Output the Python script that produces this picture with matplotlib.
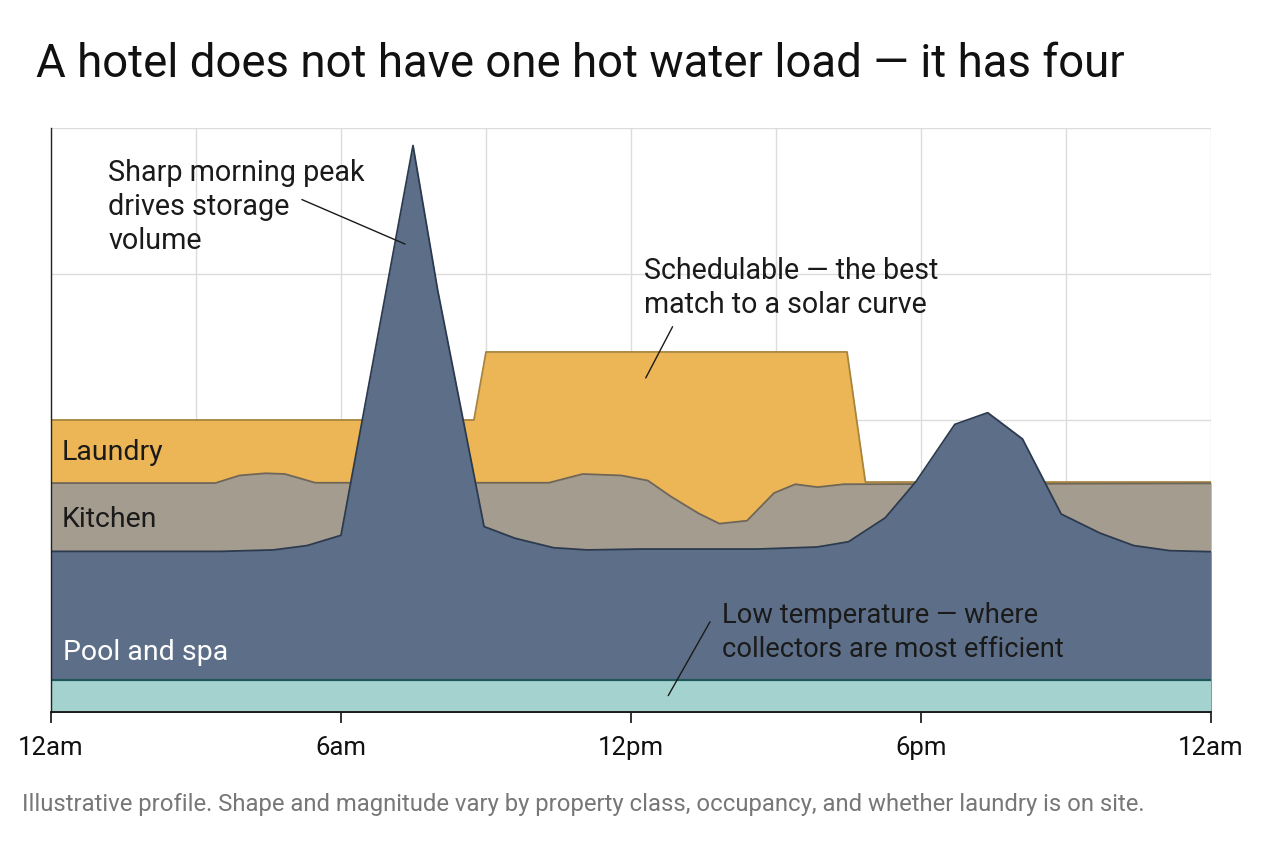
import matplotlib
matplotlib.use("Agg")
import matplotlib.pyplot as plt
import numpy as np

plt.rcParams['font.family'] = ['Roboto', 'DejaVu Sans']

# ---- data (hour of day, relative load) ----
guest_hours = [0, 3.5, 4.6, 5.3, 6.0, 7.49, 8.0, 8.96, 9.6, 10.4, 11.1, 12.2, 14.6, 15.85, 16.5,
               17.26, 17.9, 18.7, 19.38, 20.1, 20.9, 21.7, 22.4, 23.15, 24]
guest_vals = [1.10, 1.10, 1.11, 1.14, 1.21, 3.88, 2.89, 1.27, 1.19, 1.125, 1.11, 1.116, 1.116, 1.13, 1.166,
              1.33, 1.58, 1.97, 2.05, 1.87, 1.356, 1.226, 1.14, 1.105, 1.098]

kitchen_hours = [0, 3.4, 3.9, 4.44, 4.84, 5.47, 10.3, 11.0, 11.8, 12.35, 12.83, 13.4, 13.83, 14.4,
                 14.96, 15.4, 15.86, 16.4, 24]
kitchen_vals = [1.568, 1.568, 1.62, 1.635, 1.63, 1.57, 1.57, 1.63, 1.62, 1.585, 1.475, 1.36, 1.29, 1.31,
                1.50, 1.56, 1.54, 1.56, 1.566]

laundry_hours = [0, 8.75, 9.0, 16.47, 16.85, 24]
laundry_vals = [2.0, 2.0, 2.466, 2.466, 1.575, 1.575]

pool_hours = [0, 24]
pool_vals = [0.22, 0.22]

tick_hours = [0, 6, 12, 18, 24]
tick_labels = ["12am", "6am", "12pm", "6pm", "12am"]

# ---- figure ----
fig = plt.figure(figsize=(12.64, 8.48), dpi=100)
ax = fig.add_axes([51/1264, (848-712)/848, (1211-51)/1264, (712-128)/848])

ax.set_xlim(0, 24)
ax.set_ylim(0, 4)
ax.set_xticks(np.arange(0, 25, 3))
ax.set_yticks([1, 2, 3, 4])
ax.grid(True, color="#dcdcdc", linewidth=1.0, zorder=0)
ax.set_axisbelow(True)

c_laundry, e_laundry = "#ecb555", "#a8843c"
c_kitchen, e_kitchen = "#a59c90", "#6e665a"
c_guest, e_guest = "#5d6f88", "#2b3a4e"
c_pool, e_pool = "#a3d2cf", "#1e5858"

ax.fill_between(laundry_hours, 0, laundry_vals, color=c_laundry, zorder=2, linewidth=0)
ax.plot(laundry_hours, laundry_vals, color=e_laundry, linewidth=1.3, zorder=2.1)
ax.fill_between(kitchen_hours, 0, kitchen_vals, color=c_kitchen, zorder=3, linewidth=0)
ax.plot(kitchen_hours, kitchen_vals, color=e_kitchen, linewidth=1.3, zorder=3.1)
ax.fill_between(guest_hours, 0, guest_vals, color=c_guest, zorder=4, linewidth=0)
ax.plot(guest_hours, guest_vals, color=e_guest, linewidth=1.3, zorder=4.1)
ax.fill_between(pool_hours, 0, pool_vals, color=c_pool, zorder=5, linewidth=0)
ax.plot(pool_hours, pool_vals, color=e_pool, linewidth=1.6, zorder=5.1)

for s in ["top", "right"]:
    ax.spines[s].set_visible(False)
ax.spines["left"].set_color("#222222")
ax.spines["bottom"].set_color("#111111")
ax.spines["left"].set_linewidth(1.0)
ax.spines["bottom"].set_linewidth(1.3)
ax.spines["left"].set_zorder(6)
ax.spines["bottom"].set_zorder(6)

ax.tick_params(axis="y", length=0, labelleft=False)
ax.tick_params(axis="x", length=0, labelbottom=False)

sec = ax.secondary_xaxis("bottom")
sec.set_xticks(tick_hours)
sec.set_xticklabels(tick_labels)
sec.tick_params(axis="x", length=8, width=1.2, color="#111111", labelsize=18.5, pad=9,
                labelcolor="#111111")
sec.spines["bottom"].set_visible(False)

lab_fs = 20.5
ax.text(0.228, 1.775, "Laundry", fontsize=lab_fs, color="#1a1a1a", va="center", ha="left", zorder=7)
ax.text(0.228, 1.316, "Kitchen", fontsize=lab_fs, color="#1a1a1a", va="center", ha="left", zorder=7)
ax.text(0.25, 0.405, "Pool and spa", fontsize=lab_fs, color="white", va="center", ha="left", zorder=7)

arrow = dict(arrowstyle="-", color="#1a1a1a", lw=1.0, shrinkA=0, shrinkB=0)

ax.text(1.18, 3.46, "Sharp morning peak\ndrives storage\nvolume", fontsize=20.7, color="#1a1a1a",
        va="center", ha="left", linespacing=1.27, zorder=7)
ax.annotate("", xy=(7.325, 3.205), xytext=(5.19, 3.51), arrowprops=arrow, zorder=7)

ax.text(12.27, 2.905, "Schedulable — the best\nmatch to a solar curve", fontsize=20.6, color="#1a1a1a",
        va="center", ha="left", linespacing=1.27, zorder=7)
ax.annotate("", xy=(12.305, 2.288), xytext=(12.86, 2.639), arrowprops=arrow, zorder=7)

ax.text(13.88, 0.545, "Low temperature — where\ncollectors are most efficient", fontsize=19.7,
        color="#1a1a1a", va="center", ha="left", linespacing=1.3, zorder=7)
ax.annotate("", xy=(12.77, 0.112), xytext=(13.635, 0.618), arrowprops=arrow, zorder=7)

fig.text(36/1264, 1 - 64/848, "A hotel does not have one hot water load — it has four",
         fontsize=32.9, color="#111111", va="center", ha="left")
fig.text(22/1264, 1 - 805/848,
         "Illustrative profile. Shape and magnitude vary by property class, occupancy, and whether laundry is on site.",
         fontsize=17.2, color="#777777", va="center", ha="left")

fig.savefig("out.png", dpi=100)
